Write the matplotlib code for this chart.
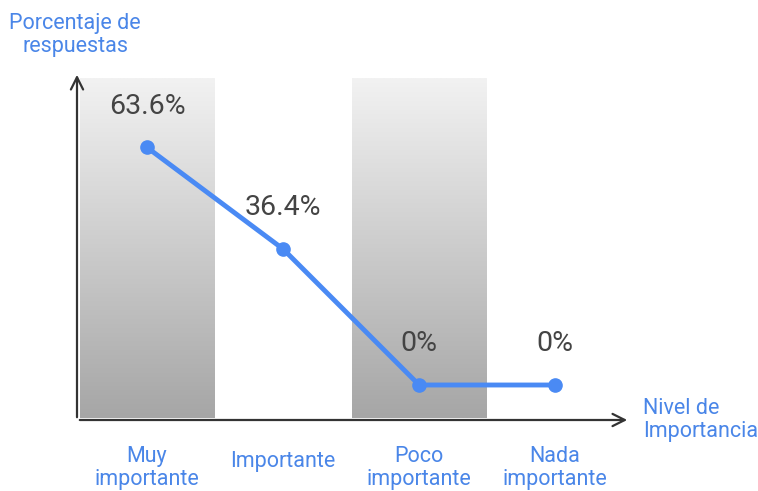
import numpy as np
import matplotlib.pyplot as plt
from matplotlib.colors import LinearSegmentedColormap
from matplotlib.transforms import blended_transform_factory

plt.rcParams['font.family'] = ['Roboto', 'DejaVu Sans']

# Survey results
categories = ['Muy\nimportante', 'Importante', 'Poco\nimportante', 'Nada\nimportante']
percentages = [63.6, 36.4, 0, 0]
value_labels = ['63.6%', '36.4%', '0%', '0%']
shaded = [0, 2]  # columns drawn with a grey gradient

blue = '#4a8af4'
label_blue = '#4a86e8'

fig = plt.figure(figsize=(7.58, 4.91), dpi=100)
ax = fig.add_axes([77 / 758, 1 - 420 / 491, (630 - 77) / 758, (420 - 72) / 491])
ax.set_xlim(-0.515, 3.55)
ax.set_ylim(-9.37, 83.8)
ax.axis('off')

# grey gradient behind alternate columns
grad = LinearSegmentedColormap.from_list('band', ['#a6a6a6', '#f2f2f2'])
ramp = np.linspace(0, 1, 256).reshape(-1, 1)
for i in shaded:
    ax.imshow(ramp, cmap=grad, origin='lower', aspect='auto',
              extent=(i - 0.49, i + 0.5, -8.8, 82.2), zorder=0)

x = np.arange(len(categories))
ax.plot(x, percentages, color=blue, lw=3.5, marker='o', ms=9.5,
        solid_capstyle='round', zorder=3)

for xi, v, txt in zip(x, percentages, value_labels):
    ax.text(xi, v + 11.0, txt, ha='center', va='center', fontsize=20.5,
            color='#444444', zorder=4)

# axes with arrow heads
arrow = dict(arrowstyle='->', color='#333333', lw=1.6, mutation_scale=22)
ax.annotate('', xy=(0, 1.0), xytext=(0, 0), xycoords='axes fraction',
            arrowprops=arrow)
ax.annotate('', xy=(1.0, 0), xytext=(0, 0), xycoords='axes fraction',
            arrowprops=arrow)

# category names under the x axis; one-line names sit a little higher
trans = blended_transform_factory(ax.transData, ax.transAxes)
for xi, name in zip(x, categories):
    ypos = -0.138 if '\n' in name else -0.12
    ax.text(xi, ypos, name, transform=trans, ha='center', va='center',
            fontsize=15.5, color=label_blue, linespacing=1.15)

fig.text(75 / 758, 1 - 35 / 491, 'Porcentaje de\nrespuestas', ha='center',
         va='center', fontsize=15.5, color=label_blue, linespacing=1.15)
fig.text(643 / 758, 1 - 420 / 491, 'Nivel de\nImportancia', ha='left',
         va='center', fontsize=15.5, color=label_blue, linespacing=1.15)

fig.savefig('out.png', dpi=100)
